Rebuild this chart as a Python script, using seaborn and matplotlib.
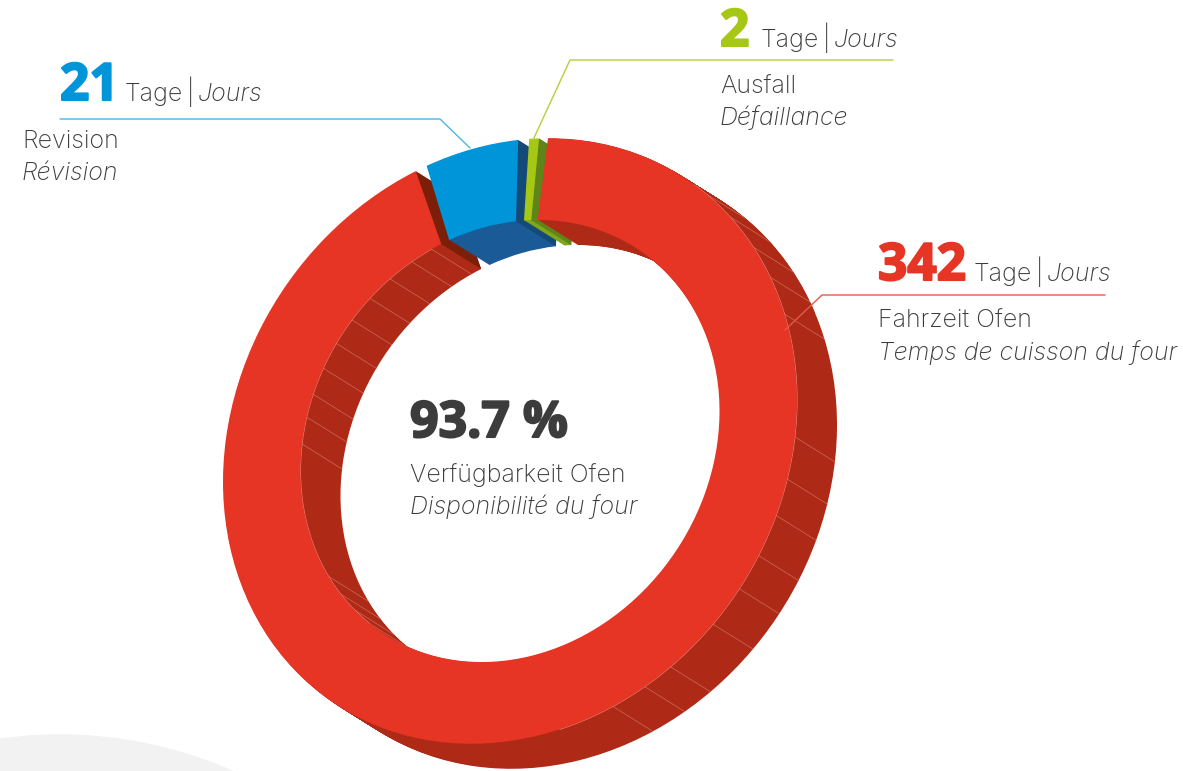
import numpy as np
import matplotlib
matplotlib.use("Agg")
import matplotlib.pyplot as plt
import matplotlib.patheffects as pe
from matplotlib.patches import Circle
from matplotlib.transforms import Affine2D
import seaborn as sns

# Data
days = [342, 21, 2]
names_de = ["Fahrzeit Ofen", "Revision", "Ausfall"]
names_fr = ["Temps de cuisson du four", "Révision", "Défaillance"]
availability = "93.7 %"
center_de = "Verfügbarkeit Ofen"
center_fr = "Disponibilité du four"
unit_de = "Tage"
unit_fr = "Jours"

# Colours per slice
face_colors = sns.color_palette(["#e63425", "#0094d8", "#a6c814"])
wall_colors = ["#ae2a17", "#1a5a96", "#7fa51a"]
end_colors = ["#7c1f08", "#134a78", "#5f8417"]
line_colors = ["#e8584a", "#4db5e5", "#b5cf3a"]
text_color = "#3c3c3c"

# Small gaps cut off slice ends (degrees: low theta side, high theta side)
trims = [(2.3, 1.8), (2.2, 0.0), (0.0, 0.0)]

# Lines on the side wall, clockwise degrees from the top
outer_ticks = [43, 50, 58, 65, 73, 97, 105, 112, 120, 127, 135, 146, 152, 159]
inner_ticks = [222, 228, 234, 240, 277, 284, 290, 297, 304, 311, 318, 325, 332, 338]

ring_hole = 0.73
start = 84.2
depth = np.array([40.0, 25.0])

sns.set_theme(style="white")
plt.rcParams["font.family"] = ["Inter", "Open Sans", "DejaVu Sans"]

fig = plt.figure(figsize=(11.83, 7.71), dpi=100)
ax = fig.add_axes([0, 0, 1, 1])

# unit circle -> tilted ellipse in pixels
face = Affine2D.from_values(287, -41, 0, -300, 510, 441)


def draw_ring(offset, colors, z):
    wedges, _ = ax.pie(days, colors=colors, startangle=start, counterclock=False,
                       radius=1, wedgeprops=dict(width=1 - ring_hole, linewidth=0))
    for w, trim in zip(wedges, trims):
        w.set_theta1(w.theta1 + trim[0])
        w.set_theta2(w.theta2 - trim[1])
        w.set_transform(face + Affine2D().translate(*offset) + ax.transData)
        w.set_zorder(z)
    return wedges


def rim(theta, radius):
    a = np.radians(theta)
    return face.transform(np.array([radius * np.cos(a), radius * np.sin(a)]).T)


ax.add_patch(Circle((60, 1164), 429, color="#f2f2f2", zorder=0))

# Extrusion: same ring stacked from back to front, slice by slice
steps = np.linspace(1, 0.02, 40)
fronts = draw_ring((0, 0), face_colors, 10)
for i in range(3):
    for k, t in enumerate(steps):
        wedges = draw_ring(depth * t, wall_colors, 2 + i + k * 0.001)
        for j, w in enumerate(wedges):
            if j != i:
                w.remove()

# Start of the red wall again, it lies over the green end wall
for k, t in enumerate(steps):
    wedges = draw_ring(depth * t, wall_colors, 4.8 + k * 0.001)
    wedges[0].set_theta1(wedges[0].theta2 - 60)
    wedges[1].remove()
    wedges[2].remove()

# End walls of the slices (the clockwise end of each)
for i, w in enumerate(fronts):
    p_out = rim([w.theta1], 1)[0]
    p_in = rim([w.theta1], ring_hole)[0]
    pts = np.array([p_out, p_in, p_in + depth, p_out + depth])
    ax.fill(pts[:, 0], pts[:, 1], color=end_colors[i], lw=0, zorder=2.5 + i)

# Thin lines on the side wall of the red slice
for deg in outer_ticks:
    p = rim([90 - deg], 1)[0]
    ax.plot([p[0], p[0] + depth[0]], [p[1], p[1] + depth[1]], color="#cf6a55", lw=0.5, zorder=5)
for deg in inner_ticks:
    p = rim([90 - deg], ring_hole)[0]
    ax.plot([p[0], p[0] + depth[0]], [p[1], p[1] + depth[1]], color="#cf6a55", lw=0.5, zorder=5)
arc = rim(np.linspace(90 - 170, 90 - 40, 120), 1)
ax.plot(arc[:, 0], arc[:, 1], color="#e98c7c", lw=0.7, zorder=5)
arc = rim(np.linspace(90 - 338, 90 - 222, 120), ring_hole)
ax.plot(arc[:, 0], arc[:, 1], color="#e98c7c", lw=0.7, zorder=5)

# Leader lines
ax.plot([1105, 822, 785], [295, 295, 330], color=line_colors[0], lw=1, zorder=12)
ax.plot([60, 440, 470], [119, 119, 148], color=line_colors[1], lw=1, zorder=12)
ax.plot([893, 570, 533], [60, 60, 140], color=line_colors[2], lw=1, zorder=12)

# Labels
label_x = [878, 60, 720]
label_y = [280, 100, 46]
unit_x = [974, 125, 761]
name_x = [878, 22, 720]
name_y = [328, 148, 93]
size = 18


def label(x, y, s, **kw):
    ax.text(x, y, s, color=text_color, fontsize=size, fontweight="light", va="baseline", zorder=13, **kw)


for i in range(3):
    ax.text(label_x[i], label_y[i], str(days[i]), color=face_colors[i], fontsize=37,
            fontweight="bold", va="baseline", zorder=13, family="Open Sans",
            path_effects=[pe.withStroke(linewidth=1.5, foreground=face_colors[i])])
    label(unit_x[i], label_y[i] + 1, unit_de)
    label(unit_x[i] + 62, label_y[i] + 1, "|")
    label(unit_x[i] + 73, label_y[i] + 1, unit_fr, style="italic")
    label(name_x[i], name_y[i], names_de[i])
    label(name_x[i], name_y[i] + 32, names_fr[i], style="italic")

ax.text(410, 437, availability, color=text_color, fontsize=36, fontweight="bold",
        va="baseline", zorder=13, family="Open Sans",
        path_effects=[pe.withStroke(linewidth=1.5, foreground=text_color)])
label(410, 482, center_de)
label(410, 514, center_fr, style="italic")

ax.set_xlim(0, 1183)
ax.set_ylim(771, 0)
ax.set_aspect("auto")
ax.axis("off")

fig.savefig("out.png", dpi=100, facecolor="white")
